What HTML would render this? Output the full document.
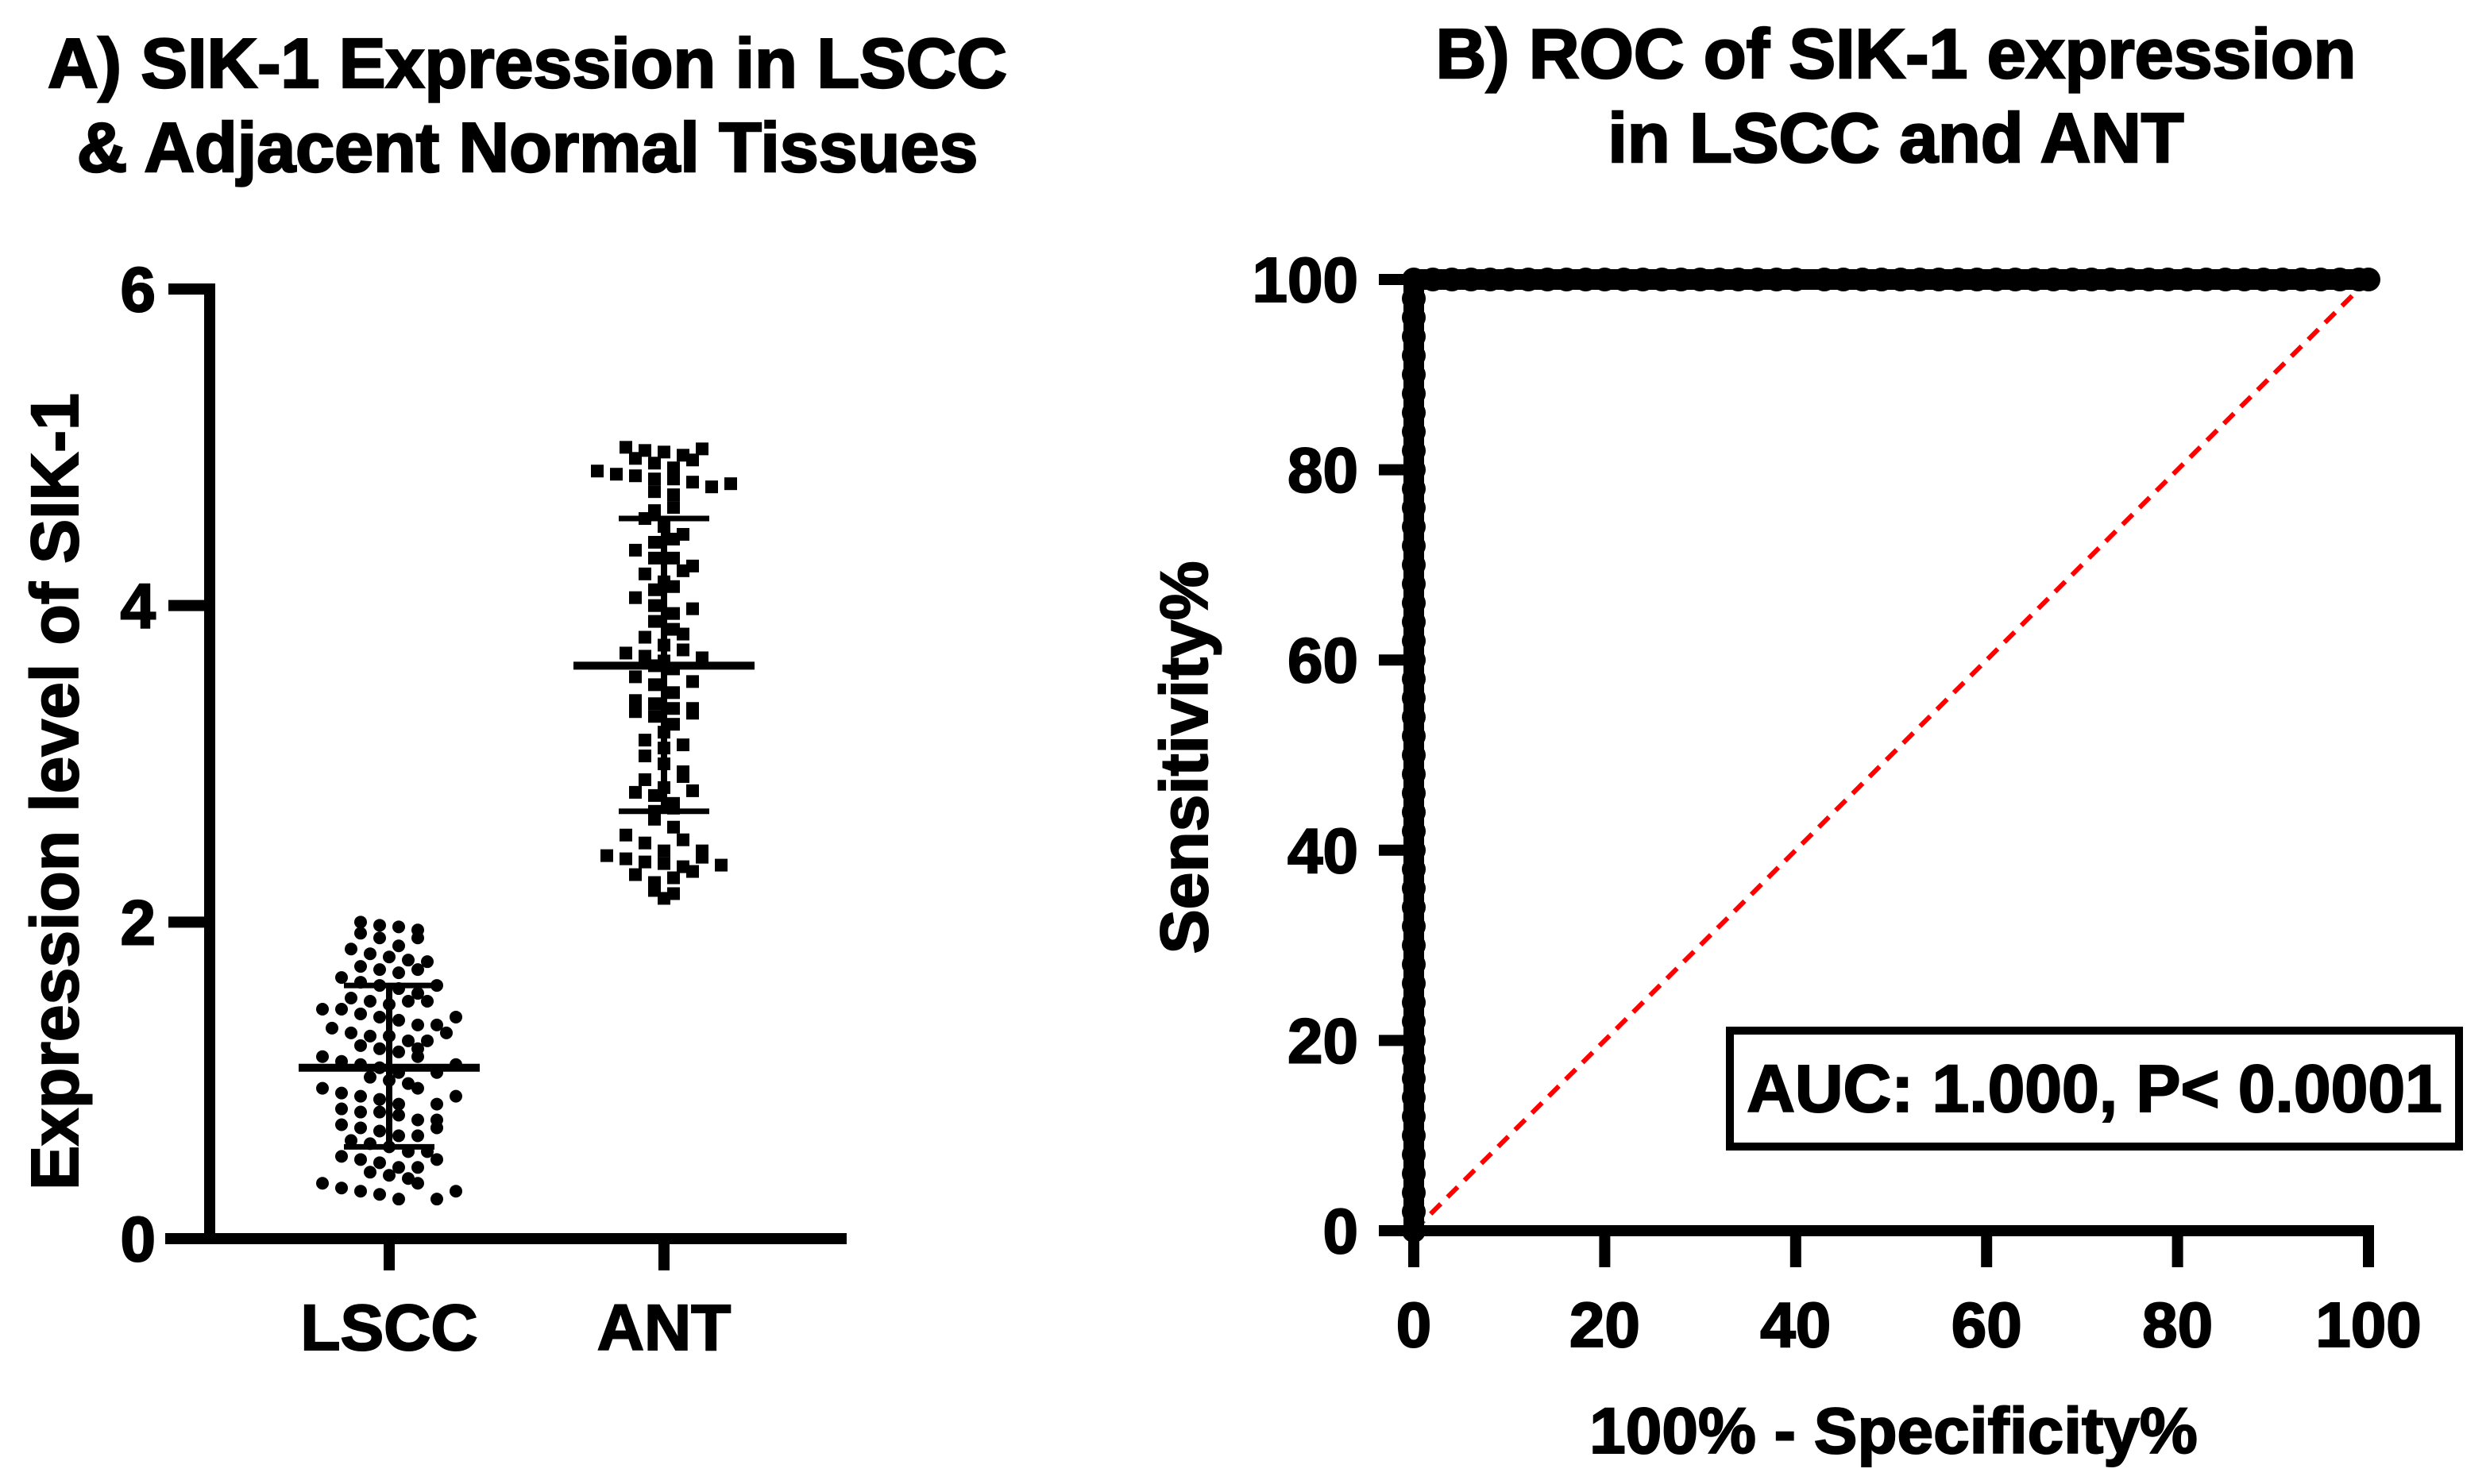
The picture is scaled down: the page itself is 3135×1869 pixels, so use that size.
<!DOCTYPE html>
<html><head><meta charset="utf-8"><style>
html,body{margin:0;padding:0;background:#fff;}
svg{display:block;font-family:"Liberation Sans",Arial,sans-serif;font-weight:bold;}
</style></head><body>
<svg id="fig" width="3135" height="1869" viewBox="0 0 3135 1869">
<g stroke="#000" stroke-width="2.5">
<text x="664" y="110" font-size="88" text-anchor="middle">A) SIK-1 Expression in LSCC</text>
<text x="664" y="216" font-size="88" text-anchor="middle">&amp; Adjacent Normal Tissues</text>
<text x="2387" y="98" font-size="88" text-anchor="middle">B) ROC of SIK-1 expression</text>
<text x="2387" y="204" font-size="88" text-anchor="middle">in LSCC and ANT</text>
</g>
<g id="pa"></g>
<g id="pb"></g>
</svg>
<script>
const groups = ["LSCC","ANT"];
const lsccValues = [2.0,1.98,1.97,1.95,1.93,1.9,1.85,1.83,1.8,1.78,1.76,1.75,1.72,1.7,1.68,1.65,1.62,1.6,1.58,1.55,1.52,1.5,1.48,1.45,1.45,1.42,1.4,1.38,1.35,1.33,1.3,1.28,1.28,1.25,1.22,1.2,1.18,1.15,1.12,1.1,1.08,1.05,1.02,1.0,0.98,0.95,0.92,0.9,0.88,0.85,0.82,0.8,0.8,0.78,0.75,0.72,0.7,0.68,0.65,0.62,0.6,0.58,0.55,0.52,0.5,0.48,0.45,0.42,0.4,0.38,0.35,0.32,0.3,0.28,0.25,1.9,1.7,1.6,1.5,1.35,1.25,1.15,1.05,0.95,0.85,0.75,0.65,0.55,0.45,0.35,0.25,0.3,0.5,0.7,0.9,1.1,1.3,1.5,1.4,1.2];
const antValues = [5.0,4.98,4.97,4.95,4.93,4.9,4.85,4.83,4.82,4.8,4.8,4.78,4.75,4.72,4.7,4.6,4.55,4.5,4.45,4.4,4.35,4.3,4.3,4.25,4.2,4.15,4.1,4.05,4.0,3.95,3.9,3.85,3.8,3.75,3.7,3.68,3.65,3.62,3.6,3.55,3.5,3.45,3.4,3.38,3.35,3.33,3.3,3.25,3.2,3.15,3.1,3.05,3.0,2.95,2.9,2.85,2.82,2.8,2.75,2.7,2.65,2.6,2.55,2.5,2.45,2.42,2.4,2.38,2.37,2.35,2.3,2.25,2.2,2.15,4.99,4.87,4.62,4.42,4.22,3.98,3.72,3.52,3.32,3.12,2.92,2.72,2.52,2.41,2.36,2.28,2.18,4.92,4.77,3.35,3.67,2.83,2.45,2.32,3.82,4.12];
const means = [1.08, 3.62];
const sdLow = [0.58, 2.7];
const sdHigh = [1.6, 4.55];
const yTicksA = [0,2,4,6];
const rocFpr = [0,0,0,0,0,0,0,0,0,0,0,0,0,0,0,0,0,0,0,0,0,0,0,0,0,0,0,0,0,0,0,0,0,0,0,0,0,0,0,0,0,0,0,0,0,0,0,0,0,0,0,2,4,6,8,10,12,14,16,18,20,22,24,26,28,30,32,34,36,38,40,43,45,47,49,51,53,55,57,59,61,63,65,67,69,71,73,75,77,79,81,83,85,87,89,91,93,95,97,99,100];
const rocTpr = [0,2,4,6,8,10,12,14,16,18,20,22,24,26,28,30,32,34,36,38,40,42,44,46,48,50,52,54,56,58,60,62,64,66,68,70,72,74,76,78,80,82,84,86,88,90,92,94,96,98,100,100,100,100,100,100,100,100,100,100,100,100,100,100,100,100,100,100,100,100,100,100,100,100,100,100,100,100,100,100,100,100,100,100,100,100,100,100,100,100,100,100,100,100,100,100,100,100,100,100,100];
const ticksB = [0,20,40,60,80,100];

const NS="http://www.w3.org/2000/svg";
function mk(parent,tag,attrs,text){const e=document.createElementNS(NS,tag);for(const k in attrs)e.setAttribute(k,attrs[k]);if(text!==undefined)e.textContent=text;parent.appendChild(e);return e;}
const TS={stroke:'#000','stroke-width':2};
function txt(parent,attrs,text){return mk(parent,'text',Object.assign({},TS,attrs),text);}

// Panel A
const pa=document.getElementById('pa');
const ya=v=>1560-v*199.33;
const xa=[490,836];
let e=mk(pa,'line',{x1:264,y1:ya(6)-7,x2:264,y2:1567,stroke:'#000','stroke-width':14});


e=mk(pa,'line',{x1:208,y1:1560,x2:1066,y2:1560,stroke:'#000','stroke-width':14});


yTicksA.forEach(t=>{
  let l=mk(pa,'line',{x1:212,y1:ya(t),x2:264,y2:ya(t),stroke:'#000','stroke-width':14});
  
  
  let tx=txt(pa,{x:196,y:ya(t)+28,'font-size':80,'text-anchor':'end'},String(t));
  
  
});
groups.forEach((g,i)=>{
  let l=mk(pa,'line',{x1:xa[i],y1:1560,x2:xa[i],y2:1600,stroke:'#000','stroke-width':14});
  
  
  let tx=txt(pa,{x:xa[i],y:1700,'font-size':82,'text-anchor':'middle'},g);
  
  
});
let yt=txt(pa,{x:0,y:0,'font-size':84,'text-anchor':'middle',transform:'translate(98,997) rotate(-90)'},'Expression level of SIK-1');



function drawGroup(vals,gi,square){
  const bins={};
  vals.forEach(v=>{const b=Math.round(v/0.1);(bins[b]=bins[b]||[]).push(v);});
  Object.values(bins).forEach(arr=>{
    arr.forEach((v,k)=>{
      const off=(k-(arr.length-1)/2)*24;
      let p;
      if(square){p=mk(pa,'rect',{x:xa[gi]+off-8,y:ya(v)-8,width:16,height:16,fill:'#000'});}
      else{p=mk(pa,'circle',{cx:xa[gi]+off,cy:ya(v),r:8,fill:'#000'});}
      
      
    });
  });
  let m=mk(pa,'line',{x1:xa[gi]-114,y1:ya(means[gi]),x2:xa[gi]+114,y2:ya(means[gi]),stroke:'#000','stroke-width':10});
  
  
  let s=mk(pa,'line',{x1:xa[gi],y1:ya(sdLow[gi]),x2:xa[gi],y2:ya(sdHigh[gi]),stroke:'#000','stroke-width':8});
  
  
  [sdLow[gi],sdHigh[gi]].forEach(v=>{
    let c=mk(pa,'line',{x1:xa[gi]-57,y1:ya(v),x2:xa[gi]+57,y2:ya(v),stroke:'#000','stroke-width':7});
    
    
  });
}
drawGroup(lsccValues,0,false);
drawGroup(antValues,1,true);

// Panel B
const pb=document.getElementById('pb');
const xb=v=>1780+v*12.02;
const yb=v=>1550-v*11.98;
e=mk(pb,'line',{x1:1780,y1:yb(100),x2:1780,y2:1557,stroke:'#000','stroke-width':14});


e=mk(pb,'line',{x1:1773,y1:1550,x2:xb(100)+7,y2:1550,stroke:'#000','stroke-width':14});


ticksB.forEach(t=>{
  let l=mk(pb,'line',{x1:1736,y1:yb(t),x2:1780,y2:yb(t),stroke:'#000','stroke-width':14});
  
  
  let tx=txt(pb,{x:1710,y:yb(t)+28,'font-size':80,'text-anchor':'end'},String(t));
  
  
  let l2=mk(pb,'line',{x1:xb(t),y1:1550,x2:xb(t),y2:1596,stroke:'#000','stroke-width':14});
  
  
  let tx2=txt(pb,{x:xb(t),y:1696,'font-size':80,'text-anchor':'middle'},String(t));
  
  
});
e=mk(pb,'line',{x1:xb(0),y1:yb(0),x2:xb(100),y2:yb(100),stroke:'#ff0000','stroke-width':6,'stroke-dasharray':'18,12'});


let pts=rocFpr.map((f,i)=>xb(f)+','+yb(rocTpr[i])).join(' ');
e=mk(pb,'polyline',{points:pts,fill:'none',stroke:'#000','stroke-width':26,'stroke-linejoin':'round'});


rocFpr.forEach((f,i)=>{
  let c=mk(pb,'circle',{cx:xb(f),cy:yb(rocTpr[i]),r:15,fill:'#000'});
  
  
});
e=txt(pb,{x:0,y:0,'font-size':84,'text-anchor':'middle',transform:'translate(1520,954) rotate(-90)'},'Sensitivity%');


e=txt(pb,{x:2384,y:1830,'font-size':82,'text-anchor':'middle'},'100% - Specificity%');


e=mk(pb,'rect',{x:2178,y:1298,width:918,height:146,fill:'#fff',stroke:'#000','stroke-width':10});


e=txt(pb,{x:2637,y:1400,'font-size':84,'text-anchor':'middle'},'AUC: 1.000, P< 0.0001');


</script>
</body></html>
